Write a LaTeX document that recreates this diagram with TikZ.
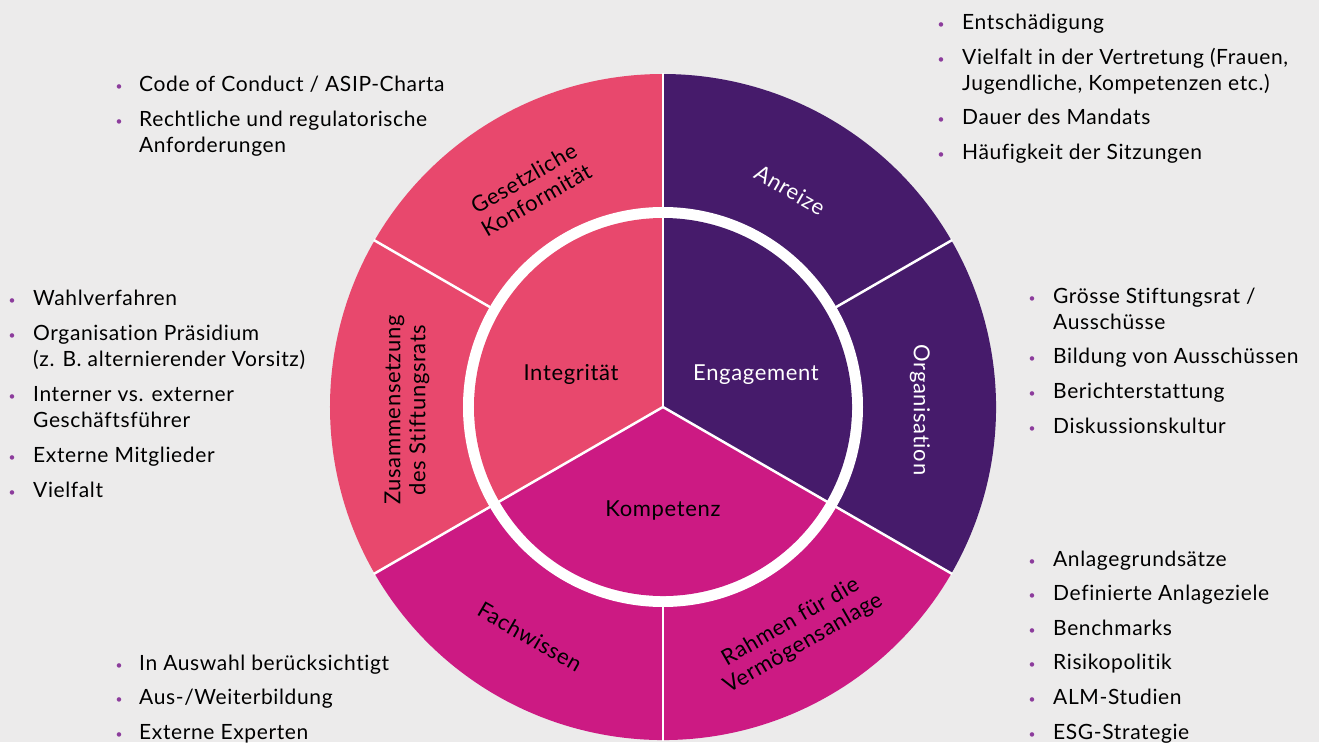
\documentclass[tikz,border=0pt]{standalone}
\usepackage{fontspec}
\setmainfont{Lato}[LetterSpace=3, Ligatures=NoCommon]

\definecolor{paper}{HTML}{ECEBEB}
\definecolor{roseRed}{HTML}{E8486D}
\definecolor{deepPurple}{HTML}{461B6B}
\definecolor{brightMagenta}{HTML}{CC1A83}
\definecolor{bulletPurple}{HTML}{8C3C9C}

\newcommand{\dotitem}{\makebox[0pt]{\color{bulletPurple}\fontsize{12}{12}\selectfont\raisebox{1pt}{\textbullet}}}

\begin{document}
\begin{tikzpicture}[x=1pt, y=1pt,
        sep/.style = {white, line width=2.5pt},
        list/.style = {anchor=base west, inner sep=0pt, font=\fontsize{21}{26}\selectfont},
        lab/.style = {inner sep=0pt, align=center, font=\fontsize{22}{25}\selectfont}]
        \useasboundingbox (-663,-335) rectangle (656,407);
        \fill[paper] (-663,-335) rectangle (656,407);

        % outer ring
        \fill[roseRed] (0,0) -- (90:333) arc[start angle=90, end angle=210, radius=333] -- cycle;
        \fill[brightMagenta] (0,0) -- (210:333) arc[start angle=210, end angle=330, radius=333] -- cycle;
        \fill[deepPurple] (0,0) -- (-30:333) arc[start angle=-30, end angle=90, radius=333] -- cycle;
        \fill[white] (0,0) circle[radius=200];

        % inner disc
        \fill[roseRed] (0,0) -- (90:189) arc[start angle=90, end angle=210, radius=189] -- cycle;
        \fill[brightMagenta] (0,0) -- (210:189) arc[start angle=210, end angle=330, radius=189] -- cycle;
        \fill[deepPurple] (0,0) -- (-30:189) arc[start angle=-30, end angle=90, radius=189] -- cycle;

        \draw[sep] (30:199) -- (30:334);
        \draw[sep] (90:199) -- (90:334);
        \draw[sep] (150:199) -- (150:334);
        \draw[sep] (210:199) -- (210:334);
        \draw[sep] (270:199) -- (270:334);
        \draw[sep] (330:199) -- (330:334);
        \draw[sep] (0,0) -- (90:190);
        \draw[sep] (0,0) -- (210:190);
        \draw[sep] (0,0) -- (330:190);

        \node[lab, anchor=base] (int) at (-92,27) {Integrität};
        \node[lab, anchor=base, text=white] (eng) at (93,27) {Engagement};
        \node[lab, anchor=base] (komp) at (0,-109) {Kompetenz};

        \node[lab, rotate=30] (gesetz) at (-133,218) {Gesetzliche\\Konformität};
        \node[lab, rotate=90] (zus) at (-256,-3) {Zusammensetzung\\des Stiftungsrats};
        \node[lab, rotate=-30] (fach) at (-133,-230) {Fachwissen};
        \node[lab, rotate=30] (rahmen) at (134,-226) {Rahmen für die\\Vermögensanlage};
        \node[lab, rotate=-90, text=white] (orga) at (257,-3) {Organisation};
        \node[lab, rotate=-30, text=white] (anreiz) at (127,217) {Anreize};

        \node[list] (l-gesetz) at (-544,315) {\begin{tabular}[t]{@{}c@{\hspace{20pt}}l@{}}
                \dotitem & Code of Conduct / ASIP-Charta\\[9pt]
                \dotitem & Rechtliche und regulatorische\\
                         & Anforderungen
            \end{tabular}};
        \node[list] (l-zus) at (-651,102) {\begin{tabular}[t]{@{}c@{\hspace{21pt}}l@{}}
                \dotitem & Wahlverfahren\\[9pt]
                \dotitem & Organisation Präsidium\\
                         & (z. B. alternierender Vorsitz)\\[9pt]
                \dotitem & Interner vs. externer\\
                         & Geschäftsführer\\[9pt]
                \dotitem & Externe Mitglieder\\[9pt]
                \dotitem & Vielfalt
            \end{tabular}};
        \node[list] (l-fach) at (-544,-263) {\begin{tabular}[t]{@{}c@{\hspace{20pt}}l@{}}
                \dotitem & In Auswahl berücksichtigt\\[8.6pt]
                \dotitem & Aus-/Weiterbildung\\[8.6pt]
                \dotitem & Externe Experten
            \end{tabular}};
        \node[list] (l-anreiz) at (278,377) {\begin{tabular}[t]{@{}c@{\hspace{21pt}}l@{}}
                \dotitem & Entschädigung\\[9pt]
                \dotitem & Vielfalt in der Vertretung (Frauen,\\
                         & Jugendliche, Kompetenzen etc.)\\[8pt]
                \dotitem & Dauer des Mandats\\[9pt]
                \dotitem & Häufigkeit der Sitzungen
            \end{tabular}};
        \node[list] (l-orga) at (369,104) {\begin{tabular}[t]{@{}c@{\hspace{21pt}}l@{}}
                \dotitem & Grösse Stiftungsrat /\\
                         & Ausschüsse\\[8pt]
                \dotitem & Bildung von Ausschüssen\\[9pt]
                \dotitem & Berichterstattung\\[9pt]
                \dotitem & Diskussionskultur
            \end{tabular}};
        \node[list] (l-rahmen) at (369,-159) {\begin{tabular}[t]{@{}c@{\hspace{21pt}}l@{}}
                \dotitem & Anlagegrundsätze\\[8.6pt]
                \dotitem & Definierte Anlageziele\\[8.6pt]
                \dotitem & Benchmarks\\[8.6pt]
                \dotitem & Risikopolitik\\[8.6pt]
                \dotitem & ALM-Studien\\[8.6pt]
                \dotitem & ESG-Strategie
            \end{tabular}};

    \end{tikzpicture}
\end{document}
